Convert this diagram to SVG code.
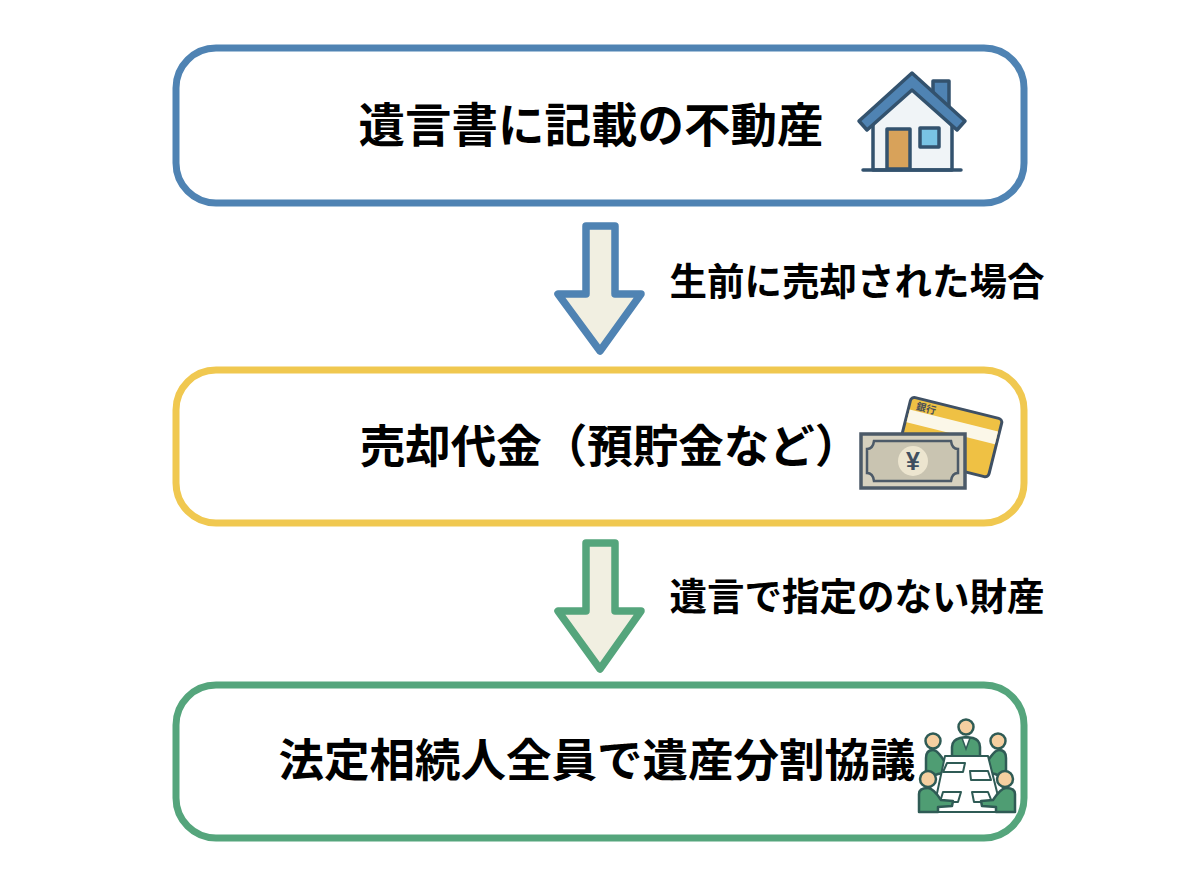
<svg xmlns="http://www.w3.org/2000/svg" width="1200" height="896" viewBox="0 0 1200 896">
<style>
.box{fill:#fff;stroke-width:7}
.t{font-family:"Noto Sans CJK JP","Liberation Sans",sans-serif;font-weight:700;fill:#000;text-anchor:middle}
.big{font-size:46px}
.sm{font-size:37.5px}
.arr{fill:#f1efe1;stroke-width:7.5;stroke-linejoin:round}
.ink{stroke:#33526e;stroke-width:3.5;stroke-linejoin:round;stroke-linecap:round}
.g{fill:#4f9d73;stroke:#2f5b55;stroke-width:2.5;stroke-linejoin:round}
.h{fill:#f5cfa0;stroke:#2f5b55;stroke-width:2.5}
.p{fill:#fff;stroke:#2f5b55;stroke-width:2;stroke-linejoin:round}
</style>
<rect width="1200" height="896" fill="#fff"/>
<g id="connectors">
<path class="arr" stroke="#4f83b3" d="M586 226H615V294H641L600 351L558 294H586Z"/>
<path class="arr" stroke="#55a57c" d="M586 543H615V611H641L600 669L558 611H586Z"/>
<text class="t sm" x="857" y="295">生前に売却された場合</text>
<text class="t sm" x="857" y="610">遺言で指定のない財産</text>
</g>
<g id="node1">
<rect class="box" x="176" y="48" width="848" height="155" rx="40" stroke="#4f83b3"/>
<text class="t big" x="591" y="142" style="font-size:46.500px">遺言書に記載の不動産</text>
<g id="house">
<path d="M873 122L912 84L952 122V170H873Z" fill="#f0f4f7" class="ink"/>
<path d="M933 92V81H949V112Z" fill="#4f83b3" class="ink"/>
<path d="M859 121L912 73L965 121L957 130L912 90L867 130Z" fill="#4f83b3" class="ink"/>
<rect x="887" y="129" width="23" height="40" fill="#d8a25a" class="ink"/>
<rect x="920" y="128" width="19" height="19" fill="#79c3e4" class="ink"/>
<path d="M863 170H961" fill="none" class="ink"/>
</g>
</g>
<g id="node2">
<rect class="box" x="176" y="370" width="848" height="153" rx="40" stroke="#f0c850"/>
<text class="t big" x="610" y="463" style="font-size:45.500px">売却代金（預貯金など）</text>
<g id="money">
<g transform="rotate(14 950 432)">
<rect x="904" y="407" width="94" height="60" rx="4" fill="#efc144" stroke="#3f5064" stroke-width="3"/>
<rect x="905.500" y="420" width="91" height="13" fill="#fbf7e8"/>
<text x="921" y="418.500" font-family="Noto Sans CJK JP,sans-serif" font-size="10" font-weight="700" fill="#4a5058" text-anchor="middle">銀行</text>
</g>
<rect x="861" y="434" width="104" height="54" fill="#d6d1bf" stroke="#4c5a68" stroke-width="3.500"/>
<path d="M874 441H951Q952 449 958 449V473Q952 473 951 481H874Q873 473 867 473V449Q873 449 874 441Z" fill="#c9c4b1" stroke="#4c5a68" stroke-width="2.500"/>
<circle cx="913" cy="461" r="15" fill="#ece5cf"/>
<text x="913" y="470" font-family="Liberation Sans,sans-serif" font-size="25" font-weight="700" fill="#3f4f60" text-anchor="middle">¥</text>
</g>
</g>
<g id="node3">
<rect class="box" x="176" y="685" width="848" height="153" rx="40" stroke="#55a57c"/>
<text class="t big" x="597" y="777" style="font-size:45.500px">法定相続人全員で遺産分割協議</text>
<g id="meeting">
<path class="g" d="M952 757V747Q952 740 960 738L966 737L973 738Q980 740 980 747V757Z"/>
<path d="M962 738L966 749L970 738Z" fill="#fff" stroke="#2f5b55" stroke-width="1.500"/>
<circle class="h" cx="966" cy="727" r="7.500"/>
<path class="g" d="M926 775V758Q926 750 933 750Q938 750 946 764L955 766L954 771L938 774L932 776Z"/>
<circle class="h" cx="933" cy="741" r="7.500"/>
<path class="g" d="M1006 775V758Q1006 750 999 750Q994 750 986 764L978 766L979 771L995 774L1000 776Z"/>
<circle class="h" cx="998" cy="741" r="7.500"/>
<path class="p" d="M945 756H988L1002 812H933Z"/>
<path class="p" d="M947 763H965L963 772H943Z"/>
<path class="p" d="M970 771H988L991 780H971Z"/>
<path class="p" d="M943 792H961L958 802H940Z"/>
<path class="p" d="M972 792H988L992 802H974Z"/>
<path class="g" d="M919 812V794Q919 788 928 788Q933 788 941 800L953 801L952 806L938 807V812Z"/>
<circle class="h" cx="928" cy="779" r="8"/>
<path class="g" d="M1015 812V794Q1015 788 1006 788Q1001 788 993 800L981 801L982 806L996 807V812Z"/>
<circle class="h" cx="1005" cy="779" r="8"/>
</g>
</g>
</svg>
